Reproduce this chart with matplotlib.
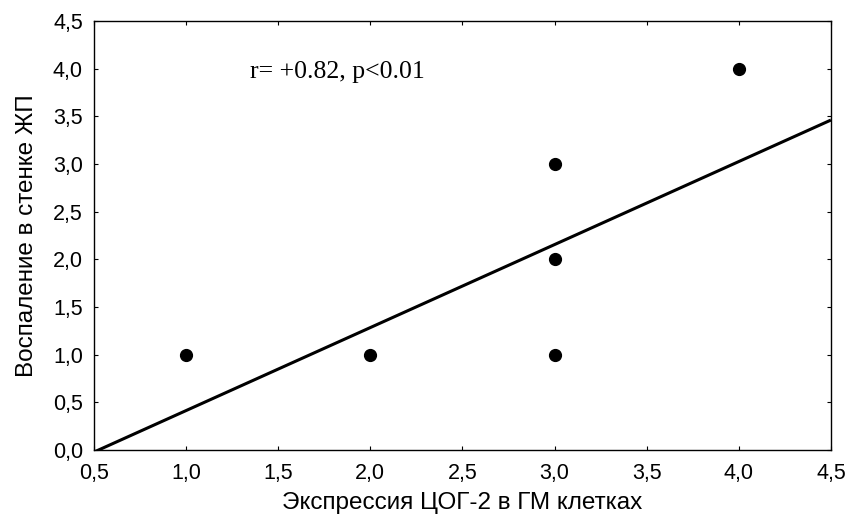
import matplotlib
matplotlib.use("Agg")
from matplotlib import pyplot as plt
from matplotlib.ticker import FuncFormatter
import numpy as np

# data points
cox2 = [1.0, 2.0, 3.0, 3.0, 3.0, 4.0]
inflammation = [1.0, 1.0, 3.0, 2.0, 1.0, 4.0]

# regression line as drawn
slope = 0.87
intercept = -0.455
line_x = [0.5, 4.5]

xticks = [0.5, 1.0, 1.5, 2.0, 2.5, 3.0, 3.5, 4.0, 4.5]
yticks = [0.0, 0.5, 1.0, 1.5, 2.0, 2.5, 3.0, 3.5, 4.0, 4.5]

plt.rcParams['font.family'] = ['Liberation Sans', 'DejaVu Sans']

fig = plt.figure(figsize=(8.47, 5.21), dpi=100)
ax = fig.add_axes([0.111, 0.136, 0.870, 0.824])

lx = np.array(line_x)
ax.plot(lx, slope * lx + intercept, color='black', lw=2.2, solid_capstyle='butt')
ax.plot(cox2, inflammation, 'o', color='black', ms=8.5, ls='none')

ax.set_xlim(0.5, 4.5)
ax.set_ylim(0.0, 4.5)
ax.set_xticks(xticks)
ax.set_yticks(yticks)
comma = FuncFormatter(lambda v, p: ('%.1f' % v).replace('.', ','))
ax.xaxis.set_major_formatter(comma)
ax.yaxis.set_major_formatter(comma)
ax.tick_params(direction='in', length=3, width=0.8, top=True, right=True,
               labelsize=15.5)
ax.tick_params(axis='y', pad=8)
ax.tick_params(axis='x', pad=9)
for s in ax.spines.values():
    s.set_linewidth(1.0)

ax.set_xlabel("Экспрессия ЦОГ-2 в ГМ клетках", fontsize=17.5, labelpad=6)
ax.set_ylabel("Воспаление в стенке ЖП", fontsize=17.5, labelpad=11)

ax.text(1.347, 3.96, "r= +0.82, p<0.01", family='Liberation Serif',
        fontsize=18.5, va='center', ha='left')

fig.savefig("out.png", dpi=100)
